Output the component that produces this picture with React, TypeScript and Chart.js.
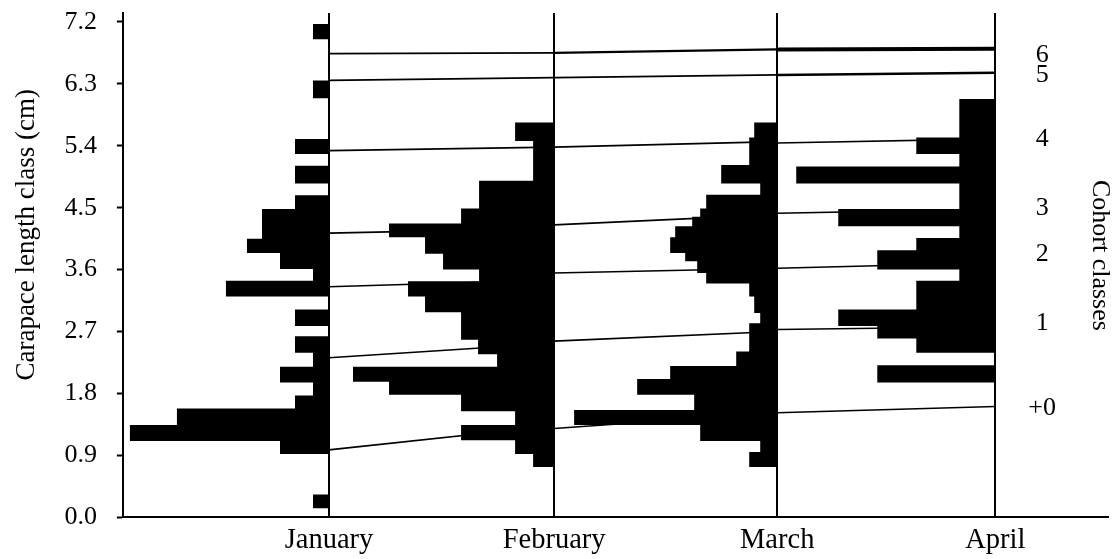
import React, { useEffect, useRef } from 'react';
import { Chart, registerables } from 'chart.js';

Chart.register(...registerables);

const SERIF = "'Liberation Serif', 'Times New Roman', serif";

// ---- axes ----
const MONTHS = ['January', 'February', 'March', 'April'];
const MONTH_X = [206, 431, 654, 872]; // baseline of each month's histogram (frequency axis units)
const X_MAX = 882;
const Y_MAX = 7.33;
const Y_TICKS = [0, 0.9, 1.8, 2.7, 3.6, 4.5, 5.4, 6.3, 7.2];

// ---- length-frequency histograms: class edges (cm, top -> bottom) and relative frequency per class ----
const janEdges = [7.17, 6.95, 6.35, 6.09, 5.5, 5.28, 5.11, 4.85, 4.68, 4.48, 4.05, 3.84, 3.61, 3.44, 3.21, 3.02, 2.78, 2.63, 2.39, 2.19, 1.96, 1.77, 1.58, 1.34, 1.11, 0.92, 0.33, 0.13];
const janFreq = [16, 0, 16, 0, 34, 0, 34, 0, 34, 67, 82, 49, 16, 103, 0, 34, 0, 34, 16, 49, 16, 34, 152, 199, 49, 0, 16];

const febEdges = [5.74, 5.47, 4.89, 4.49, 4.27, 4.07, 3.83, 3.6, 3.43, 3.21, 2.98, 2.58, 2.37, 2.19, 1.97, 1.78, 1.54, 1.34, 1.12, 0.92, 0.73];
const febFreq = [39, 21, 75, 93, 165, 129, 111, 75, 146, 129, 93, 76, 57, 201, 165, 93, 39, 93, 39, 21];

const marEdges = [5.74, 5.52, 5.12, 4.85, 4.69, 4.49, 4.37, 4.23, 4.07, 3.84, 3.72, 3.55, 3.4, 3.21, 2.97, 2.82, 2.41, 2.2, 2.01, 1.78, 1.56, 1.34, 1.11, 0.95, 0.73];
const marFreq = [23, 28, 56, 17, 71, 77, 85, 102, 107, 92, 80, 71, 28, 23, 17, 28, 41, 107, 140, 83, 203, 77, 17, 28];

const aprEdges = [6.08, 5.52, 5.28, 5.1, 4.85, 4.48, 4.23, 4.06, 3.88, 3.6, 3.44, 3.02, 2.78, 2.6, 2.39, 2.21, 1.96];
const aprFreq = [36, 79, 36, 199, 36, 157, 36, 79, 118, 36, 79, 157, 118, 79, 0, 118];

// ---- cohort growth lines: [Jan start, Feb end, Feb start, Mar end, Mar start, Apr end] (cm) ----
const COHORT_NAMES = ['+0', '1', '2', '3', '4', '5', '6'];
const COHORT_LABEL_Y = [1.58, 2.82, 3.82, 4.49, 5.5, 6.42, 6.72];
const cohort0 = [0.98, 1.33, 1.29, 1.52, 1.52, 1.61];
const cohort1 = [2.32, 2.53, 2.56, 2.7, 2.73, 2.77];
const cohort2 = [3.35, 3.45, 3.55, 3.62, 3.62, 3.7];
const cohort3 = [4.13, 4.2, 4.25, 4.4, 4.42, 4.48];
const cohort4 = [5.33, 5.38, 5.38, 5.46, 5.44, 5.5];
const cohort5 = [6.35, 6.39, 6.39, 6.43, 6.43, 6.46];
const cohort6 = [6.74, 6.75, 6.75, 6.8, 6.8, 6.81];

const COHORTS = [cohort0, cohort1, cohort2, cohort3, cohort4, cohort5, cohort6];
const COHORT_WIDTHS = [
  [1.6, 1.6, 1.6],
  [1.6, 1.6, 1.6],
  [1.6, 1.6, 1.6],
  [1.6, 1.6, 1.6],
  [1.6, 1.6, 1.6],
  [1.6, 1.6, 2.5],
  [1.6, 2.2, 4],
];

function histogram(base: number, edges: number[], freq: number[]) {
  const pts: { x: number; y: number }[] = [{ x: base, y: edges[0] }];
  freq.forEach((f, i) => {
    pts.push({ x: base - f, y: edges[i] });
    pts.push({ x: base - f, y: edges[i + 1] });
  });
  pts.push({ x: base, y: edges[edges.length - 1] });
  return pts;
}

function cohortLine(v: number[]) {
  const pts: { x: number; y: number | null }[] = [];
  for (let s = 0; s < 3; s++) {
    if (s > 0) pts.push({ x: MONTH_X[s], y: null });
    pts.push({ x: MONTH_X[s], y: v[2 * s] });
    pts.push({ x: MONTH_X[s + 1], y: v[2 * s + 1] });
  }
  return pts;
}

export default function App() {
  const ref = useRef<HTMLCanvasElement>(null);

  useEffect(() => {
    document.body.style.margin = '0';
    const canvas = ref.current;
    if (!canvas) return;

    const hists: [number[], number[]][] = [
      [janEdges, janFreq],
      [febEdges, febFreq],
      [marEdges, marFreq],
      [aprEdges, aprFreq],
    ];

    const datasets: any[] = [
      ...hists.map(([e, f], i) => ({
        data: histogram(MONTH_X[i], e, f),
        showLine: true,
        fill: 'shape',
        backgroundColor: '#000',
        borderColor: 'rgba(0,0,0,0)',
        borderWidth: 0,
        pointRadius: 0,
        pointHoverRadius: 0,
        tension: 0,
      })),
      ...COHORTS.map((c, k) => ({
        data: cohortLine(c),
        showLine: true,
        fill: false,
        borderColor: '#000',
        backgroundColor: '#000',
        borderWidth: 1.6,
        pointRadius: 0,
        pointHoverRadius: 0,
        spanGaps: false,
        tension: 0,
        segment: {
          borderWidth: (ctx: any) => COHORT_WIDTHS[k][Math.min(2, Math.floor(ctx.p0DataIndex / 3))],
        },
      })),
    ];

    const extendAxis = {
      id: 'extendAxis',
      afterDraw(chart: any) {
        const { ctx, chartArea, scales } = chart;
        const y = Math.round(scales.y.getPixelForValue(0));
        ctx.save();
        ctx.strokeStyle = '#000';
        ctx.lineWidth = 2;
        ctx.beginPath();
        ctx.moveTo(chartArea.right - 1, y);
        ctx.lineTo(chart.width - 4, y);
        ctx.stroke();
        ctx.restore();
      },
    };

    const chart = new Chart(canvas, {
      type: 'scatter',
      data: { datasets },
      options: {
        responsive: false,
        animation: false,
        devicePixelRatio: 1,
        layout: { padding: { top: 13, left: 0, right: 0, bottom: 1.5 } },
        plugins: {
          legend: { display: false },
          tooltip: { enabled: false },
        },
        scales: {
          x: {
            type: 'linear',
            position: 'bottom',
            min: 0,
            max: X_MAX,
            afterBuildTicks: (s: any) => {
              s.ticks = MONTH_X.map((v) => ({ value: v }));
            },
            ticks: {
              callback: (_v: any, i: number) => MONTHS[i],
              autoSkip: false,
              maxRotation: 0,
              padding: 0,
              color: '#000',
              font: { family: SERIF, size: 28.5 },
            },
            grid: {
              display: true,
              drawOnChartArea: true,
              drawTicks: true,
              tickLength: 6,
              tickColor: 'rgba(0,0,0,0)',
              color: '#000',
              lineWidth: 2,
            },
            border: { display: true, color: '#000', width: 2 },
          },
          y: {
            type: 'linear',
            position: 'left',
            min: 0,
            max: Y_MAX,
            afterBuildTicks: (s: any) => {
              s.ticks = Y_TICKS.map((v) => ({ value: v }));
            },
            ticks: {
              callback: (v: any) => Number(v).toFixed(1),
              autoSkip: false,
              padding: 0,
              color: '#000',
              font: { family: SERIF, size: 26, lineHeight: 1 },
            },
            grid: {
              drawOnChartArea: false,
              drawTicks: true,
              tickLength: 26,
              tickColor: '#000',
              tickWidth: 2,
              tickBorderDash: [0, 20, 6, 100],
            },
            border: { display: true, color: '#000', width: 2 },
            title: {
              display: true,
              text: '         Carapace length class (cm)',
              color: '#000',
              font: { family: SERIF, size: 27 },
              padding: { top: 11, bottom: 21 },
            },
          },
          y2: {
            type: 'linear',
            position: 'right',
            min: 0,
            max: Y_MAX,
            afterBuildTicks: (s: any) => {
              s.ticks = COHORT_LABEL_Y.map((v) => ({ value: v }));
            },
            ticks: {
              callback: (_v: any, i: number) => COHORT_NAMES[i],
              autoSkip: false,
              padding: 0,
              crossAlign: 'center',
              color: '#000',
              font: { family: SERIF, size: 26, lineHeight: 1 },
            },
            grid: {
              drawOnChartArea: false,
              drawTicks: true,
              tickLength: 23,
              tickColor: 'rgba(0,0,0,0)',
            },
            border: { display: false },
            title: {
              display: true,
              text: 'Cohort classes   ',
              color: '#000',
              font: { family: SERIF, size: 26, lineHeight: 1 },
              padding: { top: 0, bottom: 31 },
            },
          },
        },
      } as any,
      plugins: [extendAxis],
    });

    return () => chart.destroy();
  }, []);

  return (
    <div style={{ position: 'fixed', left: 0, top: 0, width: 1113, height: 559, background: '#fff' }}>
      <canvas ref={ref} width={1113} height={559} style={{ display: 'block' }} />
    </div>
  );
}
